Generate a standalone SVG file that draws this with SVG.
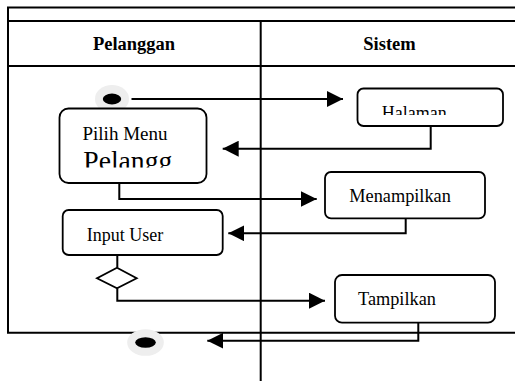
<svg xmlns="http://www.w3.org/2000/svg" width="515" height="381" viewBox="0 0 515 381">
<style>
.frame{stroke:#000;stroke-width:2;fill:none}
.box{fill:#fff;stroke:#000;stroke-width:1.8}
.conn{fill:none;stroke:#000;stroke-width:2}
.t{font-family:"Liberation Serif","Times New Roman",serif;fill:#000}
.h{font-family:"Liberation Serif","Times New Roman",serif;font-weight:bold;font-size:18.5px;fill:#000}
</style>
<defs>
<marker id="ah" markerWidth="16" markerHeight="16" refX="16" refY="8" orient="auto" markerUnits="userSpaceOnUse">
<path d="M0,0 L16,8 L0,16 Z" fill="#000"/>
</marker>
<clipPath id="clipHal"><rect x="358" y="89" width="144" height="26"/></clipPath>
<clipPath id="clipPil"><rect x="60" y="109" width="146" height="58.5"/></clipPath>
</defs>
<rect width="515" height="381" fill="#fff"/>
<g id="swimlanes">
<path class="frame" d="M8,7.5 H515 M8,21 H515 M8,66 H515 M8,6.5 V333.7 M7,332.7 H515"/>
<path class="frame" d="M260.7,21 V381"/>
<text class="h" x="134" y="50" text-anchor="middle">Pelanggan</text>
<text class="h" x="389.5" y="50" text-anchor="middle">Sistem</text>
</g>
<g id="start">
<ellipse cx="112" cy="99" rx="17" ry="14" fill="#eeeeee"/>
<ellipse cx="112" cy="99" rx="9.2" ry="5.4" fill="#000"/>
</g>
<g id="connectors">
<path class="conn" d="M131.5,99 H343" marker-end="url(#ah)"/>
<path class="conn" d="M430.7,126 V148.7 H222.7" marker-end="url(#ah)"/>
<path class="conn" d="M119.3,183 V199 H316.7" marker-end="url(#ah)"/>
<path class="conn" d="M405.7,218 V233.3 H228.3" marker-end="url(#ah)"/>
<path class="conn" d="M117.3,255 V267.7"/>
<path class="conn" d="M117.3,288.3 V300.7 H325" marker-end="url(#ah)"/>
<path class="conn" d="M418.3,322.7 V340.7 H207.3" marker-end="url(#ah)"/>
</g>
<g id="halaman">
<rect class="box" x="357.5" y="88.5" width="145.5" height="37.5" rx="6"/>
<text class="t" x="381.7" y="118.5" font-size="18" textLength="65" lengthAdjust="spacingAndGlyphs" clip-path="url(#clipHal)">Halaman</text>
</g>
<g id="pilih-menu">
<rect class="box" x="59.5" y="108.5" width="147" height="74.5" rx="9"/>
<text class="t" x="82.5" y="140" font-size="19">Pilih Menu</text>
<text class="t" x="83.3" y="170" font-size="27" textLength="89" lengthAdjust="spacingAndGlyphs" clip-path="url(#clipPil)">Pelangg</text>
</g>
<g id="menampilkan">
<rect class="box" x="325" y="172" width="160" height="46.3" rx="6"/>
<text class="t" x="349.3" y="202.3" font-size="18.3">Menampilkan</text>
</g>
<g id="input-user">
<rect class="box" x="62.7" y="210" width="160" height="45" rx="6"/>
<text class="t" x="86.7" y="241" font-size="18">Input User</text>
</g>
<g id="decision">
<path d="M117,267.7 L136.7,278.3 L117,288.3 L97,278.3 Z" fill="#fff" stroke="#000" stroke-width="1.8"/>
</g>
<g id="tampilkan">
<rect class="box" x="335" y="275" width="160" height="47.7" rx="7"/>
<text class="t" x="358" y="305" font-size="18.3">Tampilkan</text>
</g>
<g id="end">
<ellipse cx="145.5" cy="342.5" rx="18.3" ry="13.3" fill="#eeeeee"/>
<ellipse cx="145.5" cy="342.5" rx="10.3" ry="5.2" fill="#000"/>
</g>
</svg>
